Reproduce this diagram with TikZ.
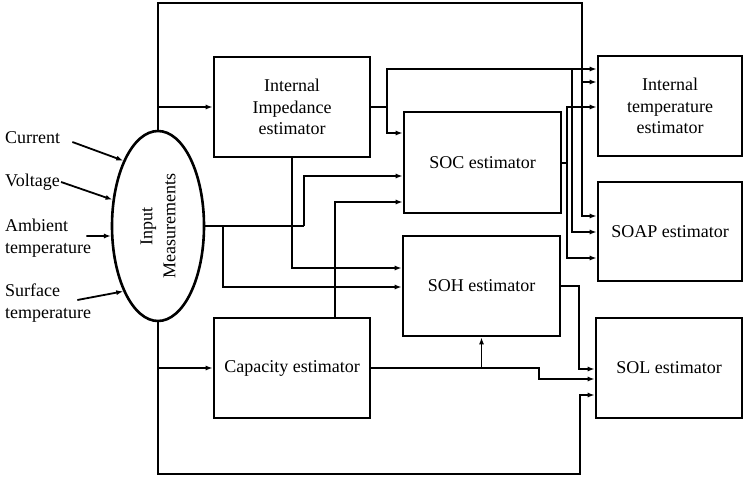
\documentclass[tikz,border=0pt]{standalone}
\usepackage{fontspec}
\setmainfont{Liberation Serif}
\usetikzlibrary{shapes.geometric,arrows.meta}

\begin{document}
\begin{tikzpicture}[x=1pt, y=-1pt,
    >={Latex[length=7pt,width=5pt]},
    estbox/.style={draw, line width=2.6pt, inner sep=0pt, align=center,
        font=\fontsize{18}{21.5}\selectfont},
    lbl/.style={anchor=west, inner sep=0pt, align=left,
        font=\fontsize{18}{21.5}\selectfont},
    wire/.style={line width=1.8pt},
    conn/.style={wire, ->}]

    % Fix the page size
    \useasboundingbox (0,0) rectangle (743,477);

    % Draw the input ellipse
    \node[draw, ellipse, line width=2.6pt, minimum width=92pt, minimum height=190pt] (inm) at (158,226) {};
    \node[rotate=90, align=center, font=\fontsize{18}{23}\selectfont] (inmtext) at (inm.center) {Input\\Measurements};

    % Draw the estimator blocks
    \node[estbox, minimum width=156pt, minimum height=100pt] (imp) at (292,107) {Internal\\Impedance\\estimator};
    \node[estbox, minimum width=157pt, minimum height=101pt] (soc) at (482.5,162.5) {SOC estimator};
    \node[estbox, minimum width=157pt, minimum height=100pt] (soh) at (481.5,286) {SOH estimator};
    \node[estbox, minimum width=156pt, minimum height=100pt] (cap) at (292,368) {Capacity estimator};
    \node[estbox, minimum width=144pt, minimum height=100pt] (itemp) at (670,106) {Internal\\temperature\\estimator};
    \node[estbox, minimum width=144pt, minimum height=99pt] (soap) at (670,231.5) {SOAP estimator};
    \node[estbox, minimum width=146pt, minimum height=100pt] (sol) at (669,368) {SOL estimator};

    % Input labels
    \node[lbl] (cur) at (5,138) {Current};
    \node[lbl] (vol) at (5,182) {Voltage};
    \node[lbl] (amb) at (5,238) {Ambient\\temperature};
    \node[lbl] (sur) at (5,303) {Surface\\temperature};
    \draw[conn] ([shift={(12pt,-4pt)}]cur.east) -- (inm.118);
    \draw[conn] ([xshift=1pt]vol.east) -- (inm.150);
    \draw[conn] ([shift={(-5pt,2pt)}]amb.east) -- (inm.192);
    \draw[conn] ([shift={(-14pt,3pt)}]sur.east) -- (inm.242);

    % Junction points
    \coordinate (topright) at (582,3);
    \coordinate (impfork) at (387,107);
    \coordinate (socfork) at (567,163);
    \coordinate (midfork) at (304,226);
    \coordinate (capfork) at (539,368);
    \coordinate (sohfork) at (579,286);
    \coordinate (botleft) at (158,474);

    % Measurements over the top and under the bottom
    \draw[conn] (inm.north) |- (topright) |- (soap.west |- 0,216);
    \draw[conn] (topright |- 0,82) -- (itemp.west |- 0,82);
    \draw[conn] (inm.north |- imp.west) -- (imp.west);
    \draw[conn] (inm.south) -- (botleft) -| (580,395) -- (sol.west |- 0,395);
    \draw[conn] (inm.south |- cap.west) -- (cap.west);

    % Measurements to the right
    \draw[wire] (inm.east) -- (midfork);
    \draw[conn] (midfork) |- (soc.west |- 0,176);
    \draw[conn] (223,226) |- (soh.west |- 0,287);

    % Impedance outputs
    \draw[wire] (imp.east) -- (impfork);
    \draw[conn] (impfork) |- (itemp.west |- 0,69);
    \draw[conn] (impfork) |- (soc.west |- 0,133);
    \draw[conn] (572,69) |- (soap.west |- 0,232);
    \draw[conn] (imp.south) |- (soh.west |- 0,268);

    % SOC outputs
    \draw[wire] (soc.east |- socfork) -- (socfork);
    \draw[conn] (socfork) |- (itemp.west |- 0,107);
    \draw[conn] (socfork) |- (soap.west |- 0,258);

    % Capacity outputs
    \draw[conn] (cap.north -| 335,0) |- (soc.west |- 0,202);
    \draw[conn] (cap.east) -- (capfork) |- (sol.west |- 0,379);
    \draw[conn] (soh.south |- cap.east) -- (soh.south);

    % SOH output
    \draw[conn] (soh.east) -- (sohfork) |- (sol.west |- 0,369);

\end{tikzpicture}
\end{document}
